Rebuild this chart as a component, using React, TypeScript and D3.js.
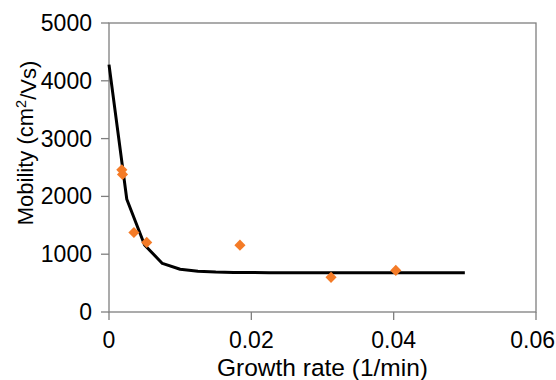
import React from "react";
import * as d3 from "d3";

// fitted curve, every 0.0025 1/min
const fitRates = [
  0, 0.0025, 0.005, 0.0075, 0.01, 0.0125, 0.015, 0.0175, 0.02, 0.0225, 0.025,
  0.0275, 0.03, 0.0325, 0.035, 0.0375, 0.04, 0.0425, 0.045, 0.0475, 0.05,
];
const fitMobility = [
  4280, 1950, 1160, 840, 740, 705, 690, 684, 682, 681, 680,
  680, 680, 680, 680, 680, 680, 680, 680, 680, 680,
];

// measured samples
const sampleRates = [0.0018, 0.0019, 0.0035, 0.0053, 0.0184, 0.0312, 0.0403];
const sampleMobility = [2460, 2380, 1376, 1204, 1157, 600, 720];

const xTicks = [0, 0.02, 0.04, 0.06];
const yTicks = [0, 1000, 2000, 3000, 4000, 5000];

const W = 556;
const H = 380;
const margin = { top: 23, right: 20, bottom: 68, left: 109 };
const font = "'Liberation Sans', Arial, sans-serif";

export default function App() {
  const x = d3.scaleLinear().domain([0, 0.06]).range([margin.left, W - margin.right]);
  const y = d3.scaleLinear().domain([0, 5000]).range([H - margin.bottom, margin.top]);

  const line = d3
    .line<number>()
    .x((_, i) => x(fitRates[i]))
    .y((d) => y(d));

  const diamond = d3.symbol().type(d3.symbolSquare).size(62)();
  const axisColor = "#7f7f7f";
  const lastTick = xTicks[xTicks.length - 1];

  return (
    <svg width={W} height={H} style={{ position: "absolute", left: 0, top: 0, background: "#fff" }}>
      {/* plot frame */}
      <rect
        x={x(0)}
        y={y(5000)}
        width={x(0.06) - x(0)}
        height={y(0) - y(5000)}
        fill="none"
        stroke={axisColor}
        strokeWidth={1.3}
      />

      {yTicks.map((t) => (
        <g key={"y" + t}>
          <line x1={x(0) - 8} x2={x(0)} y1={y(t)} y2={y(t)} stroke={axisColor} strokeWidth={1.3} />
          <text
            x={x(0) - 17}
            y={y(t)}
            dy="0.35em"
            textAnchor="end"
            fontFamily={font}
            fontSize={23}
            fill="#000"
          >
            {t}
          </text>
        </g>
      ))}

      {xTicks.map((t) => (
        <g key={"x" + t}>
          <line x1={x(t)} x2={x(t)} y1={y(0)} y2={y(0) + 8} stroke={axisColor} strokeWidth={1.3} />
          {/* last label is kept inside the right edge */}
          <text
            x={t === lastTick ? W - 1 : x(t)}
            y={348}
            textAnchor={t === lastTick ? "end" : "middle"}
            fontFamily={font}
            fontSize={23}
            fill="#000"
          >
            {t === 0 ? "0" : t.toFixed(2)}
          </text>
        </g>
      ))}

      <path d={line(fitMobility) || ""} fill="none" stroke="#000" strokeWidth={3} strokeLinejoin="round" />

      {sampleRates.map((r, i) => (
        <path
          key={"p" + i}
          d={diamond || ""}
          transform={`translate(${x(r)},${y(sampleMobility[i])}) rotate(45)`}
          fill="#f47b27"
        />
      ))}

      <text
        x={(x(0) + x(0.06)) / 2}
        y={376}
        textAnchor="middle"
        fontFamily={font}
        fontSize={24.5}
        fill="#000"
      >
        Growth rate (1/min)
      </text>
      <text
        transform={`translate(33,143) rotate(-90)`}
        textAnchor="middle"
        fontFamily={font}
        fontSize={22}
        fill="#000"
      >
        Mobility (cm<tspan dy="-0.45em" fontSize={14.5}>2</tspan>
        <tspan dy="0.45em">/Vs)</tspan>
      </text>
    </svg>
  );
}
